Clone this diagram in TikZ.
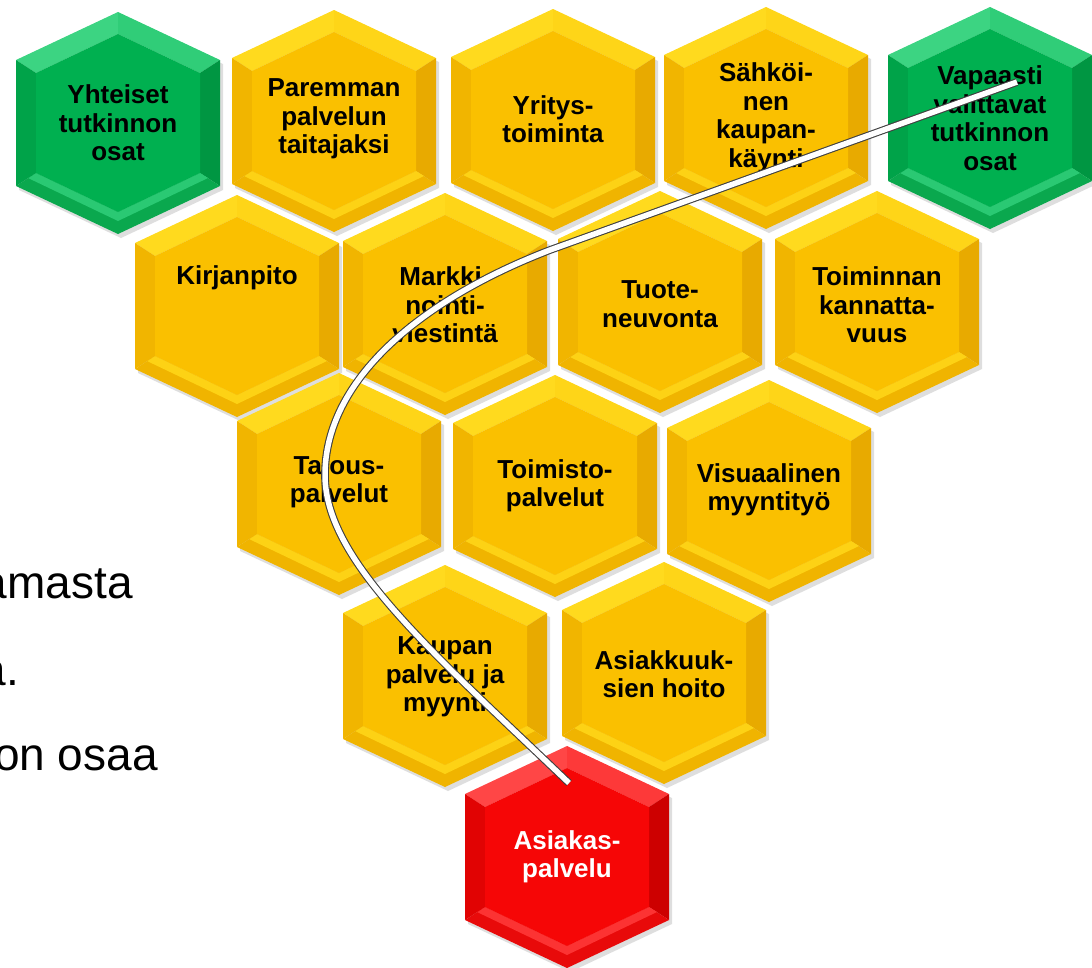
\documentclass[tikz,border=0pt]{standalone}
\usepackage{fontspec}
\setmainfont{Liberation Sans}
\usepackage{tikz}

\definecolor{yelBase}{RGB}{250,192,0}
\definecolor{yelLight}{RGB}{255,218,30}
\definecolor{yelMid}{RGB}{240,180,0}
\definecolor{yelDark}{RGB}{232,170,0}
\definecolor{grnBase}{RGB}{0,176,80}
\definecolor{grnLight}{RGB}{60,212,130}
\definecolor{grnMid}{RGB}{10,168,78}
\definecolor{grnDark}{RGB}{0,150,66}
\definecolor{redBase}{RGB}{246,6,6}
\definecolor{redLight}{RGB}{255,70,70}
\definecolor{redMid}{RGB}{232,10,10}
\definecolor{redDark}{RGB}{205,0,0}

\tikzset{
    cellText/.style={align=center, inner sep=0pt, text=black,
        font=\fontsize{26}{28.5}\selectfont\bfseries},
    sideText/.style={inner sep=0pt, text=black, font=\fontsize{46}{50}\selectfont},
    cellShadow/.style={fill=black, opacity=0.13},
    trail/.style={draw=black!75, line width=1.1pt, double=white, double distance=5.5pt},
}

% bevelled hexagon at #1 in colour set #2
\newcommand{\hexcell}[2]{%
    \begin{scope}[shift={(#1)}]
        \fill[cellShadow] (3,-107) -- (105,-59) -- (105,67) -- (3,115) -- (-99,67) -- (-99,-59) -- cycle;
        \fill[#2Light] (-102,-63) -- (0,-111) -- (0,-89) -- (-82,-50) -- cycle;
        \fill[#2Light!80!#2Base] (0,-111) -- (102,-63) -- (82,-50) -- (0,-89) -- cycle;
        \fill[#2Dark] (102,-63) -- (102,63) -- (82,50) -- (82,-50) -- cycle;
        \fill[#2Mid] (102,63) -- (0,111) -- (0,89) -- (82,50) -- cycle;
        \fill[#2Mid] (0,111) -- (-102,63) -- (-82,50) -- (0,89) -- cycle;
        \fill[#2Light!70!#2Base] (90,55) -- (0,98) -- (-90,55) -- (-82,50) -- (0,89) -- (82,50) -- cycle;
        \fill[#2Dark!50!#2Base] (-102,63) -- (-102,-63) -- (-82,-50) -- (-82,50) -- cycle;
        \fill[#2Base] (0,-89) -- (82,-50) -- (82,50) -- (0,89) -- (-82,50) -- (-82,-50) -- cycle;
    \end{scope}}

\begin{document}
\begin{tikzpicture}[x=1pt, y=-1pt]
    \fill[white] (0,0) rectangle (1092,967);
    \useasboundingbox (0,0) rectangle (1092,967);

    \begin{scope}
        \clip (0,0) rectangle (1092,967);
        \node[sideText, anchor=base east] (lineA) at (133,598) {amasta};
        \node[sideText, anchor=base east] (lineB) at (19,685) {a.};
        \node[sideText, anchor=base east] (lineC) at (158,770) {on osaa};
    \end{scope}

    \hexcell{118,123}{grn}
    \hexcell{334,121}{yel}
    \hexcell{553,120}{yel}
    \hexcell{766,118}{yel}
    \hexcell{990,118}{grn}
    \hexcell{237,306}{yel}
    \hexcell{445,304}{yel}
    \hexcell{660,302}{yel}
    \hexcell{877,302}{yel}
    \hexcell{339,484}{yel}
    \hexcell{555,486}{yel}
    \hexcell{769,491}{yel}
    \hexcell{445,676}{yel}
    \hexcell{664,673}{yel}
    \hexcell{567,857}{red}

    \node[cellText] (yhteiset) at (118,123) {Yhteiset\\tutkinnon\\osat};
    \node[cellText] (paremman) at (334,119) {Paremman\\palvelun\\taitajaksi};
    \node[cellText] (yritys) at (553,119) {Yritys-\\toiminta};
    \node[cellText] (sahkoinen) at (766,118) {Sähköi-\\nen\\kaupan-\\käynti};
    \node[cellText] (vapaasti) at (990,118) {Vapaasti\\valittavat\\tutkinnon\\osat};
    \node[cellText] (kirjanpito) at (237,278) {Kirjanpito};
    \node[cellText] (markkinointi) at (445,305) {Markki-\\nointi-\\viestintä};
    \node[cellText] (tuoteneuvonta) at (660,304) {Tuote-\\neuvonta};
    \node[cellText] (kannattavuus) at (877,305) {Toiminnan\\kannatta-\\vuus};
    \node[cellText] (talous) at (339,482) {Talous-\\palvelut};
    \node[cellText] (toimisto) at (555,486) {Toimisto-\\palvelut};
    \node[cellText] (visuaalinen) at (769,490) {Visuaalinen\\myyntityö};
    \node[cellText] (kaupan) at (445,677) {Kaupan\\palvelu ja\\myynti};
    \node[cellText] (asiakkuus) at (664,674) {Asiakkuuk-\\sien hoito};
    \node[cellText, text=white] (asiakaspalvelu) at (567,857) {Asiakas-\\palvelu};

    \coordinate (trailStart) at ([shift={(2,-74)}]asiakaspalvelu.center);
    \coordinate (trailEnd) at ([shift={(27,-36)}]vapaasti.center);
    \draw[trail] (trailStart) .. controls (430,650) and (325,560) .. (325,475)
        .. controls (325,380) and (420,300) .. (550,250) -- (trailEnd);
\end{tikzpicture}
\end{document}
